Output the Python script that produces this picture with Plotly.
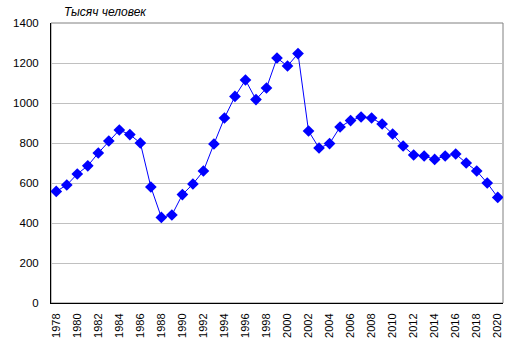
import plotly.graph_objects as go

years = list(range(1978, 2021))
values = [558, 590, 645, 686, 750, 810, 865, 842, 800, 580,
          428, 440, 542, 595, 660, 795, 925, 1033, 1115, 1017,
          1075, 1225, 1185, 1247, 860, 775, 797, 880, 912, 930,
          925, 895, 845, 785, 740, 735, 718, 735, 745, 700,
          660, 600, 528]
tick_years = [str(y) for y in range(1978, 2021, 2)]
y_ticks = [0, 200, 400, 600, 800, 1000, 1200, 1400]
title_text = "Тысяч человек"

x = [str(y) for y in years]

fig = go.Figure()
fig.add_trace(go.Scatter(
    x=x, y=values, mode="lines+markers",
    line=dict(color="#0000FF", width=1),
    marker=dict(symbol="diamond", size=9, color="#0000FF"),
    hoverinfo="x+y",
))

fig.add_shape(type="rect", xref="paper", yref="paper", x0=0, x1=1, y0=0, y1=1,
              line=dict(color="#808080", width=1), layer="below")

fig.update_layout(
    width=517, height=352,
    margin=dict(l=51, r=14, t=23, b=49),
    paper_bgcolor="white", plot_bgcolor="white",
    showlegend=False,
    font=dict(family="Arial, Liberation Sans, sans-serif", size=11, color="black"),
    xaxis=dict(type="category", categoryorder="array", categoryarray=x,
               tickmode="array", tickvals=tick_years, ticktext=tick_years,
               tickangle=-90, showgrid=False, showline=True, linecolor="black",
               linewidth=1, ticks="", ticklen=0, range=[-0.5, len(x) - 0.5],
               tickfont=dict(size=11), ticklabelstandoff=5),
    yaxis=dict(range=[0, 1400], tickvals=y_ticks, showgrid=True,
               gridcolor="#C0C0C0", gridwidth=1, showline=True, linecolor="black",
               linewidth=1, ticks="", zeroline=False, tickfont=dict(size=11.5),
               ticklabelstandoff=9),
    annotations=[dict(text=title_text, xref="paper", yref="paper", x=0.025, y=1.0,
                      xanchor="left", yanchor="bottom", showarrow=False,
                      font=dict(size=12, style="italic"), yshift=2)],
)

fig.write_html("out.html")
